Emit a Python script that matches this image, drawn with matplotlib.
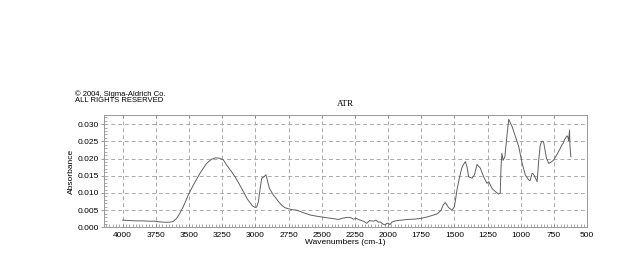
import matplotlib.pyplot as plt
from matplotlib.ticker import MultipleLocator

# spectrum points (wavenumber cm-1, absorbance)
wavenumber = [
    4000, 3950, 3900, 3850, 3800, 3760, 3720, 3680, 3650, 3620,
    3593, 3570, 3543, 3505, 3467, 3417, 3367, 3330, 3300, 3270,
    3241, 3216, 3185, 3153, 3120, 3090, 3060, 3040, 3020, 3002,
    2990, 2977, 2965, 2952, 2934, 2920, 2905, 2894, 2864, 2845,
    2826, 2800, 2776, 2730, 2688, 2640, 2587, 2530, 2461, 2420,
    2374, 2340, 2310, 2285, 2260, 2240, 2210, 2185, 2160, 2140,
    2110, 2090, 2075, 2059, 2040, 2022, 2010, 1997, 1985, 1970,
    1946, 1900, 1858, 1800, 1757, 1720, 1682, 1650, 1631, 1610,
    1601, 1585, 1569, 1555, 1543, 1518, 1501, 1490, 1481, 1461,
    1445, 1435, 1418, 1405, 1393, 1368, 1350, 1330, 1305, 1280,
    1255, 1242, 1217, 1192, 1167, 1155, 1150, 1143, 1133, 1120,
    1105, 1091, 1080, 1066, 1041, 1016, 990, 966, 941, 930,
    915, 905, 890, 877, 865, 855, 845, 835, 827, 807,
    790, 770, 752, 730, 702, 690, 680, 670, 664, 652,
    645, 640, 636, 633, 630, 627, 623,
]
absorbance = [
    0.0021, 0.0020, 0.0019, 0.0019, 0.0018, 0.0018, 0.0016, 0.0015, 0.0015, 0.0017,
    0.0026, 0.0040, 0.0060, 0.0094, 0.0123, 0.0157, 0.0186, 0.0198, 0.0202, 0.0201,
    0.0196, 0.0181, 0.0165, 0.0147, 0.0125, 0.0104, 0.0082, 0.0072, 0.0062, 0.0058,
    0.0059, 0.0075, 0.0110, 0.0143, 0.0147, 0.0153, 0.0130, 0.0113, 0.0094, 0.0085,
    0.0075, 0.0064, 0.0057, 0.0052, 0.0050, 0.0043, 0.0036, 0.0032, 0.0028, 0.0026,
    0.0023, 0.0027, 0.0029, 0.0029, 0.0024, 0.0026, 0.0021, 0.0018, 0.0012, 0.0020,
    0.0018, 0.0021, 0.0015, 0.0016, 0.0010, 0.0007, 0.0012, 0.0012, 0.0008, 0.0016,
    0.0019, 0.0021, 0.0023, 0.0024, 0.0026, 0.0029, 0.0033, 0.0037, 0.0039, 0.0046,
    0.0050, 0.0065, 0.0072, 0.0064, 0.0057, 0.0050, 0.0060, 0.0085, 0.0109, 0.0147,
    0.0172, 0.0181, 0.0191, 0.0175, 0.0147, 0.0143, 0.0152, 0.0183, 0.0172, 0.0147,
    0.0128, 0.0133, 0.0113, 0.0104, 0.0097, 0.0100, 0.0167, 0.0215, 0.0195, 0.0205,
    0.0265, 0.0314, 0.0305, 0.0293, 0.0264, 0.0235, 0.0186, 0.0152, 0.0138, 0.0136,
    0.0157, 0.0155, 0.0143, 0.0133, 0.0196, 0.0235, 0.0249, 0.0250, 0.0245, 0.0201,
    0.0186, 0.0190, 0.0196, 0.0210, 0.0230, 0.0240, 0.0245, 0.0255, 0.0259, 0.0266,
    0.0262, 0.0252, 0.0268, 0.0283, 0.0240, 0.0222, 0.0205,
]

x_ticks = [4000, 3750, 3500, 3250, 3000, 2750, 2500, 2250, 2000, 1750, 1500, 1250, 1000, 750, 500]

plt.rcParams['font.family'] = ['Liberation Sans', 'DejaVu Sans']

fig = plt.figure(figsize=(6.4, 2.78), dpi=100)
ax = fig.add_axes([0.1625, 0.182, 0.755, 0.405])

ax.plot(wavenumber, absorbance, color='#606060', linewidth=0.7)

ax.set_xlim(4140, 500)
ax.set_ylim(0, 0.0327)
ax.set_xticks(x_ticks)
ax.xaxis.set_minor_locator(MultipleLocator(25))
ax.yaxis.set_major_locator(MultipleLocator(0.005))
ax.yaxis.set_minor_locator(MultipleLocator(0.001))
ax.yaxis.set_major_formatter(plt.FormatStrFormatter('%.3f'))

ax.grid(True, which='major', linestyle=(0, (4, 3)), color='#aaaaaa', linewidth=0.7)
ax.tick_params(which='major', direction='out', length=2, width=0.6, color='#888888',
               labelsize=6, pad=1.5)
ax.tick_params(which='minor', direction='in', length=2.5, width=0.5, color='#888888')
ax.tick_params(axis='x', which='both', direction='in', top=True)
ax.tick_params(axis='x', which='minor', top=False)
ax.tick_params(axis='x', which='major', pad=3)
for s in ax.spines.values():
    s.set_color('#999999')
    s.set_linewidth(0.7)

ax.set_xlabel('Wavenumbers (cm-1)', fontsize=6, labelpad=0)
ax.set_ylabel('Absorbance', fontsize=6, labelpad=2)
ax.set_title('ATR', fontsize=6.5, family=['Liberation Serif', 'DejaVu Serif'], pad=6)

fig.text(75 / 640, 1 - 94 / 278, '\u00a9 2004, Sigma-Aldrich Co.', fontsize=5.5, va='center')
fig.text(75 / 640, 1 - 100.5 / 278, 'ALL RIGHTS RESERVED', fontsize=5.5, va='center')

fig.savefig('out.png', dpi=100)
